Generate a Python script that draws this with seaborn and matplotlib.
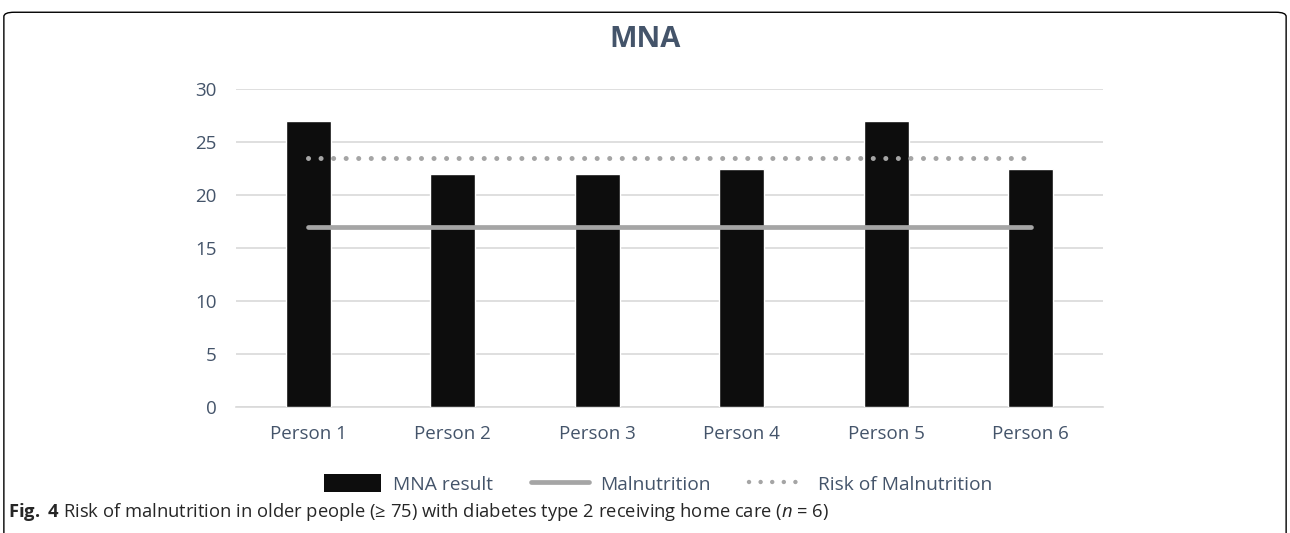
import matplotlib
matplotlib.use("Agg")
import matplotlib.pyplot as plt
import seaborn as sns
import pandas as pd
from matplotlib.patches import FancyBboxPatch, Patch
from matplotlib.lines import Line2D

persons = ["Person 1", "Person 2", "Person 3", "Person 4", "Person 5", "Person 6"]
mna_result = [27, 22, 22, 22.5, 27, 22.5]
malnutrition = [17, 17, 17, 17, 17, 17]
risk_of_malnutrition = [23.5, 23.5, 23.5, 23.5, 23.5, 23.5]
y_ticks = [0, 5, 10, 15, 20, 25, 30]

text_col = "#44546A"
grid_col = "#D9D9D9"
line_col = "#A5A5A5"

sns.set_style("white")
plt.rcParams["font.family"] = ["Open Sans", "DejaVu Sans"]
plt.rcParams["mathtext.fontset"] = "custom"
plt.rcParams["mathtext.rm"] = "Open Sans"
plt.rcParams["mathtext.bf"] = "Open Sans:bold"
plt.rcParams["mathtext.it"] = "Open Sans:italic"

df = pd.DataFrame({"person": persons, "score": mna_result})

fig = plt.figure(figsize=(12.9, 5.33), dpi=100)
ax = fig.add_axes([0.183, 0.2364, 0.672, 0.5966])

sns.barplot(data=df, x="person", y="score", color="#0D0D0D", width=0.31,
            saturation=1, ax=ax, zorder=3)

pos = list(range(len(persons)))
ax.plot(pos, malnutrition, color=line_col, lw=3.4, solid_capstyle="round", zorder=4)
ax.plot(pos, risk_of_malnutrition, color=line_col, lw=3.6,
        linestyle=(0, (0.01, 2.5)), dash_capstyle="round", zorder=4)

ax.set_ylim(0, 30)
ax.set_xlim(-0.5, len(persons) - 0.5)
ax.set_yticks(y_ticks)
ax.yaxis.grid(True, color=grid_col, lw=1.2, zorder=0)
ax.set_axisbelow(True)
for s in ["top", "right", "left"]:
    ax.spines[s].set_visible(False)
ax.spines["bottom"].set_color(grid_col)
ax.spines["bottom"].set_linewidth(1.2)
ax.tick_params(axis="both", length=0, labelsize=13.5, labelcolor=text_col)
ax.tick_params(axis="x", pad=13)
ax.tick_params(axis="y", pad=14)
ax.set_xlabel("")
ax.set_ylabel("")

fig.text(0.5, 0.925, "MNA", ha="center", va="center", fontsize=21,
         fontweight="bold", color=text_col)

handles = [
    Patch(facecolor="#0D0D0D", edgecolor="none"),
    Line2D([0], [0], color=line_col, lw=3.4, solid_capstyle="round"),
    Line2D([0], [0], color=line_col, lw=3.2, linestyle=(0, (0.01, 2.6)),
           dash_capstyle="round"),
]
fig.legend(handles, ["MNA result", "Malnutrition", "Risk of Malnutrition"],
           loc="center", bbox_to_anchor=(0.51, 0.092), ncol=3, frameon=False,
           fontsize=13.8, labelcolor=text_col, handlelength=3.0,
           handleheight=1.0, columnspacing=2.0, handletextpad=0.6)

caption = ("$\\mathbf{Fig.\\ 4}$ Risk of malnutrition in older people (\u2265 75) "
           "with diabetes type 2 receiving home care ($\\mathit{n}$ = 6)")
fig.text(0.006, 0.04, caption, fontsize=13.2, va="center")

border = FancyBboxPatch((0.003, -0.05), 0.994, 1.027, transform=fig.transFigure,
                        boxstyle="round,pad=0,rounding_size=0.008",
                        fill=False, edgecolor="black", lw=1.0)
fig.patches.append(border)

fig.savefig("out.png", dpi=100)
